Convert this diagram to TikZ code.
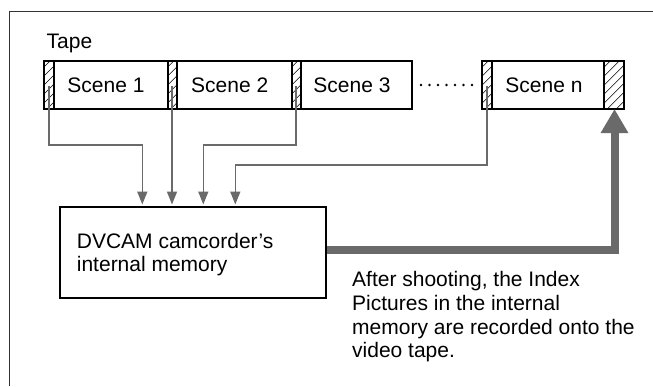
\documentclass[tikz,border=0pt]{standalone}
\usepackage{fontspec}
\setmainfont{Liberation Sans}
\usetikzlibrary{arrows.meta}
\definecolor{arrgray}{HTML}{6A6A6A}
\definecolor{framegray}{HTML}{333333}
\tikzset{
  txt/.style={font=\fontsize{21}{24}\selectfont, inner sep=0pt},
  seg/.style={draw=black, line width=1.8pt, fill=white},
  hatchline/.style={line width=0.6pt},
  thin arrow/.style={draw=arrgray, line width=1.5pt, -{Triangle[length=13pt,width=10pt]}},
  thick arrow/.style={draw=arrgray, line width=8pt, -{Triangle[length=24pt,width=26pt]}},
}
\begin{document}
\begin{tikzpicture}[x=1pt,y=-1pt]
\useasboundingbox (0,0) rectangle (653,386);
% frame (top and left only visible)
\draw[framegray, line width=1pt] (9,386) -- (9,11) -- (653,11);

% Tape label
\node[txt, anchor=base west] (tape) at (46.5,48.3) {Tape};

% hatch strips
\newcommand{\hatchstrip}[2]{%
  \begin{scope}
    \clip (#1,61) rectangle (#2,109);
    \foreach \k in {-6,...,12} {
      \draw[hatchline] (#1-60+\k*9,109+0) ++(0,0) -- ++(70,-70);
    }
  \end{scope}
  \draw[black, line width=1.8pt] (#1,61) rectangle (#2,109);
}
% Scene boxes
\draw[seg] (54,61) rectangle (167.7,109);
\draw[seg] (176.7,61) rectangle (291.7,109);
\draw[seg] (300.7,61) rectangle (412.3,109);
\draw[seg] (491.7,61) rectangle (604.3,109);
\hatchstrip{44}{54}
\hatchstrip{167.7}{176.7}
\hatchstrip{291.7}{300.7}
\hatchstrip{482.3}{491.7}
\hatchstrip{604.3}{624}

\node[txt, anchor=base] (s1) at (106,92.7) {Scene 1};
\node[txt, anchor=base] (s2) at (229.7,92.7) {Scene 2};
\node[txt, anchor=base] (s3) at (352,92.7) {Scene 3};
\node[txt, anchor=base] (sn) at (544,92.7) {Scene n};

% dots
\foreach \i in {0,...,6} \fill (421+\i*8.5,85) circle (1.3pt);

% anchor points in hatches
\coordinate (h1) at (49,86);
\coordinate (h2) at (172,86);
\coordinate (h3) at (296,86);
\coordinate (h4) at (487,86);
\coordinate (hn) at (614.5,109);

% memory box
\node[draw=black, line width=1.8pt, minimum width=266pt, minimum height=91.3pt, inner sep=0pt, anchor=north west] (mem) at (59,206) {};
\node[txt, anchor=base west, align=left] (memtxt) at (76.7,248.3) {DVCAM camcorder’s};
\node[txt, anchor=base west] (memtxt2) at (76.7,271.7) {internal memory};

% thin arrows
\draw[thin arrow] (h1) |- (142.3,145) -- (142.3,204.5);
\draw[thin arrow] (h2) -- (172,204.5);
\draw[thin arrow] (h3) |- (203.3,145) -- (203.3,204.5);
\draw[thin arrow] (h4) |- (235.3,165) -- (235.3,204.5);

% thick arrow
\draw[thick arrow] (mem.east |- 0,250) -| (hn);

% note
\node[txt, anchor=base west] (n1) at (352,286) {After shooting, the Index};
\node[txt, anchor=base west] (n2) at (352,310) {Pictures in the internal};
\node[txt, anchor=base west] (n3) at (352,334) {memory are recorded onto the};
\node[txt, anchor=base west] (n4) at (352,357.5) {video tape.};
\end{tikzpicture}
\end{document}
